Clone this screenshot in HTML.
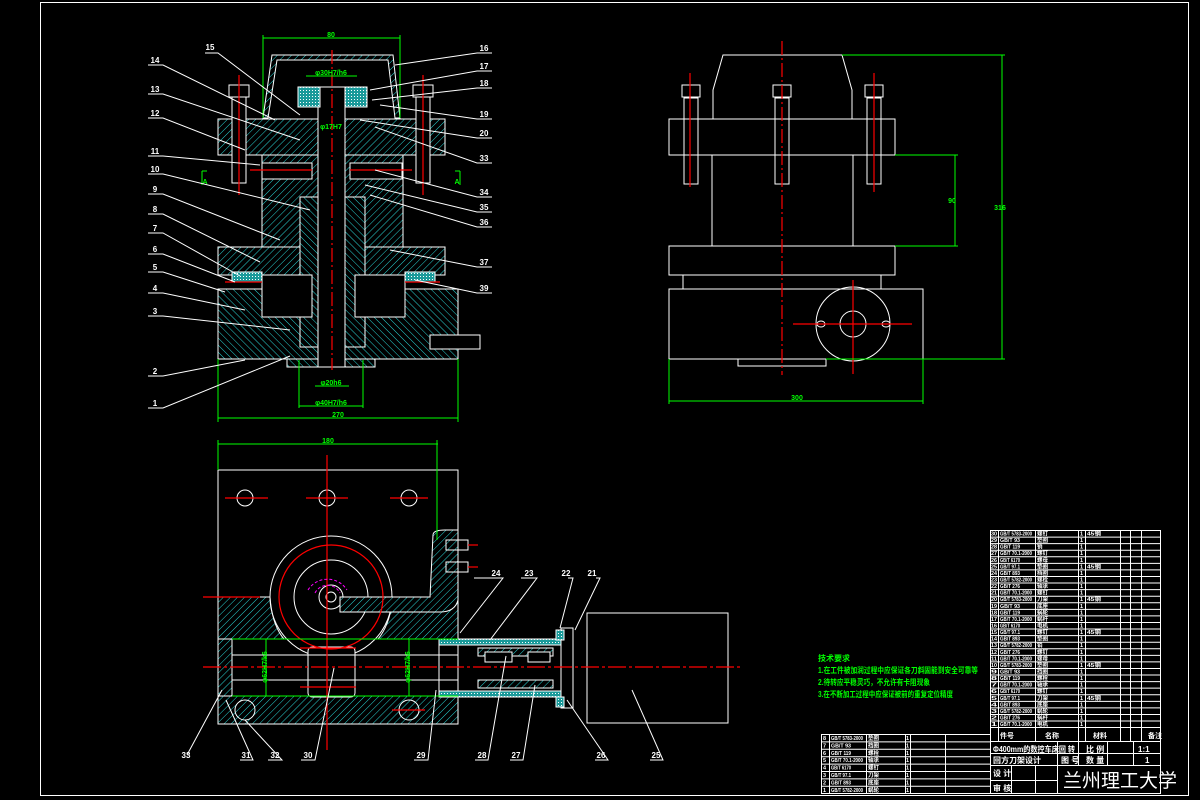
<!DOCTYPE html>
<html><head><meta charset="utf-8"><style>
html,body{margin:0;padding:0;background:#000;}
svg{display:block}
text{font-family:"Liberation Sans","Noto Sans CJK SC",sans-serif;}
</style></head><body>
<svg id="s" width="1200" height="800" viewBox="0 0 1200 800" xmlns="http://www.w3.org/2000/svg">
<defs>
<pattern id="h" width="5" height="5" patternUnits="userSpaceOnUse" patternTransform="rotate(45)">
<rect width="5" height="5" fill="#000"/><line x1="0" y1="0" x2="0" y2="5" stroke="#2ad4d4" stroke-width="1"/></pattern>
<pattern id="h2" width="5" height="5" patternUnits="userSpaceOnUse" patternTransform="rotate(-45)">
<rect width="5" height="5" fill="#000"/><line x1="0" y1="0" x2="0" y2="5" stroke="#2ad4d4" stroke-width="1"/></pattern>
<pattern id="x" width="3" height="3" patternUnits="userSpaceOnUse">
<rect width="3" height="3" fill="#1a9a9a"/><rect width="1" height="1" fill="#fff"/></pattern>
</defs>
<rect x="0" y="0" width="1200" height="800" fill="#000"/>
<rect x="40.5" y="2.5" width="1148" height="793" fill="none" stroke="#fff" stroke-width="1"/>

<!-- ===== Section view top-left ===== -->
<g stroke="#fff" stroke-width="1">
<path d="M272 55 L393 55 L400 118 L395 118 L388 60 L277 60 L268 118 L263 118 Z" fill="url(#h)"/>
<rect x="218" y="119" width="227" height="36" fill="url(#h)"/>
<rect x="262" y="155" width="141" height="92" fill="url(#h)"/>
<rect x="218" y="247" width="227" height="28" fill="url(#h)"/>
<rect x="218" y="289" width="240" height="70" fill="url(#h2)"/>
<rect x="287" y="359" width="88" height="8" fill="url(#h2)"/>
<rect x="300" y="197" width="20" height="150" fill="url(#h2)"/>
<rect x="345" y="197" width="20" height="150" fill="url(#h2)"/>
<rect x="318" y="87" width="27" height="280" fill="#000"/>
<rect x="262" y="275" width="50" height="42" fill="#000"/>
<rect x="355" y="275" width="50" height="42" fill="#000"/>
<rect x="298" y="87" width="22" height="20" fill="url(#x)"/>
<rect x="345" y="87" width="22" height="20" fill="url(#x)"/>
<rect x="232" y="85" width="14" height="98" fill="#000"/>
<rect x="416" y="85" width="14" height="98" fill="#000"/>
<rect x="229" y="85" width="20" height="12" fill="#000"/>
<rect x="413" y="85" width="20" height="12" fill="#000"/>
<rect x="262" y="163" width="50" height="16" fill="#000"/>
<rect x="350" y="163" width="52" height="16" fill="#000"/>
<rect x="232" y="272" width="30" height="10" fill="url(#x)"/>
<rect x="405" y="272" width="30" height="10" fill="url(#x)"/>
<rect x="430" y="335" width="50" height="14" fill="#000"/>
</g>
<g stroke="#f00" stroke-width="1.2" fill="none">
<line x1="332" y1="50" x2="332" y2="370" stroke-dasharray="14 3 2 3"/>
<line x1="239" y1="75" x2="239" y2="195"/>
<line x1="423" y1="75" x2="423" y2="195"/>
<line x1="250" y1="170" x2="312" y2="170"/>
<line x1="350" y1="170" x2="412" y2="170"/>
<line x1="225" y1="282" x2="262" y2="282"/>
<line x1="405" y1="282" x2="440" y2="282"/>
</g>
<g stroke="#0f0" stroke-width="1" fill="none">
<line x1="263" y1="38" x2="400" y2="38"/><line x1="263" y1="35" x2="263" y2="118"/><line x1="400" y1="35" x2="400" y2="118"/>
<line x1="306" y1="76" x2="357" y2="76"/>
<line x1="218" y1="418" x2="458" y2="418"/><line x1="218" y1="359" x2="218" y2="422"/><line x1="458" y1="359" x2="458" y2="422"/>
<line x1="299" y1="406" x2="363" y2="406"/><line x1="299" y1="360" x2="299" y2="408"/><line x1="363" y1="360" x2="363" y2="408"/>
<line x1="315" y1="386" x2="349" y2="386"/>
<path d="M202 171 V185 M202 171 H207"/><path d="M460 171 V185 M455 171 H460"/>
</g>
<g fill="#0f0" font-size="7" font-weight="bold" text-anchor="middle">
<text x="331" y="37">80</text><text x="331" y="75">φ30H7/h6</text><text x="331" y="129">φ17H7</text>
<text x="331" y="385">φ20h6</text><text x="331" y="405">φ40H7/h6</text><text x="338" y="417">270</text>
<text x="205" y="184">A</text><text x="457" y="184">A</text>
</g>
<g stroke="#fff" stroke-width="1" fill="none">
<path d="M148 65 H163 L275 120"/><path d="M148 94 H163 L300 140"/><path d="M148 118 H163 L245 150"/>
<path d="M148 156 H163 L260 165"/><path d="M148 174 H163 L310 210"/><path d="M148 194 H163 L280 240"/>
<path d="M148 214 H163 L260 262"/><path d="M148 233 H163 L240 276"/><path d="M148 254 H163 L235 282"/>
<path d="M148 272 H163 L225 292"/><path d="M148 293 H163 L245 310"/><path d="M148 316 H163 L290 330"/>
<path d="M148 376 H163 L245 360"/><path d="M148 408 H163 L290 356"/><path d="M205 53 H218 L300 115"/>
<path d="M492 53 H477 L395 65"/><path d="M492 71 H477 L370 90"/><path d="M492 88 H477 L372 100"/>
<path d="M492 119 H477 L380 105"/><path d="M492 138 H477 L360 120"/><path d="M492 163 H477 L375 127"/>
<path d="M492 197 H477 L375 170"/><path d="M492 212 H477 L365 185"/><path d="M492 227 H477 L370 195"/>
<path d="M492 267 H477 L390 250"/><path d="M492 293 H477 L415 280"/>
</g>
<g fill="#fff" font-size="8" font-weight="bold" text-anchor="middle">
<text x="155" y="63">14</text><text x="155" y="92">13</text><text x="155" y="116">12</text><text x="155" y="154">11</text>
<text x="155" y="172">10</text><text x="155" y="192">9</text><text x="155" y="212">8</text><text x="155" y="231">7</text>
<text x="155" y="252">6</text><text x="155" y="270">5</text><text x="155" y="291">4</text><text x="155" y="314">3</text>
<text x="155" y="374">2</text><text x="155" y="406">1</text><text x="210" y="50">15</text>
<text x="484" y="51">16</text><text x="484" y="69">17</text><text x="484" y="86">18</text><text x="484" y="117">19</text>
<text x="484" y="136">20</text><text x="484" y="161">33</text><text x="484" y="195">34</text><text x="484" y="210">35</text>
<text x="484" y="225">36</text><text x="484" y="265">37</text><text x="484" y="291">39</text>
</g>

<!-- ===== Right view ===== -->
<g stroke="#fff" stroke-width="1" fill="none">
<path d="M713 119 V90 L723 55 H842 L852 90 V119"/>
<rect x="669" y="119" width="226" height="36"/>
<rect x="712" y="155" width="141" height="91"/>
<rect x="669" y="246" width="226" height="29"/>
<rect x="683" y="275" width="198" height="14"/>
<rect x="669" y="289" width="254" height="70"/>
<rect x="738" y="359" width="88" height="7"/>
<circle cx="853" cy="324" r="37"/><circle cx="853" cy="324" r="13"/>
<rect x="684" y="98" width="14" height="86"/><rect x="775" y="98" width="14" height="86"/><rect x="867" y="98" width="14" height="86"/>
<rect x="682" y="85" width="18" height="12"/><rect x="773" y="85" width="18" height="12"/><rect x="865" y="85" width="18" height="12"/>
<ellipse cx="821" cy="324" rx="4" ry="3"/><ellipse cx="886" cy="324" rx="4" ry="3"/>
</g>
<g stroke="#f00" stroke-width="1.2">
<line x1="782" y1="41" x2="782" y2="375" stroke-dasharray="14 3 2 3"/>
<line x1="690" y1="73" x2="690" y2="187"/><line x1="874" y1="73" x2="874" y2="192"/>
<line x1="793" y1="324" x2="912" y2="324"/><line x1="853" y1="280" x2="853" y2="374"/>
</g>
<g stroke="#0f0" stroke-width="1" fill="none">
<line x1="842" y1="55" x2="1005" y2="55"/><line x1="1002" y1="55" x2="1002" y2="359"/><line x1="826" y1="359" x2="1005" y2="359"/>
<line x1="895" y1="155" x2="958" y2="155"/><line x1="955" y1="155" x2="955" y2="246"/><line x1="895" y1="246" x2="958" y2="246"/>
<line x1="669" y1="401" x2="923" y2="401"/><line x1="669" y1="359" x2="669" y2="404"/><line x1="923" y1="359" x2="923" y2="404"/>
</g>
<g fill="#0f0" font-size="7" font-weight="bold" text-anchor="middle">
<text x="797" y="400">300</text><text x="952" y="203">90</text><text x="1000" y="210">316</text>
</g>

<!-- ===== Bottom view ===== -->
<g stroke="#fff" stroke-width="1">
<rect x="218" y="470" width="240" height="254" fill="none"/>
<path d="M218 597 H270 Q272 625 284 639 H218 Z" fill="url(#h)"/>
<path d="M458 597 H393 Q390 625 378 639 H458 Z" fill="url(#h)"/>
<rect x="218" y="639" width="14" height="57" fill="url(#h)"/>
<rect x="218" y="696" width="240" height="28" fill="url(#h)"/>
<circle cx="331" cy="597" r="61" fill="none"/>
<circle cx="331" cy="597" r="37" fill="none"/><circle cx="331" cy="597" r="12" fill="none"/>
<circle cx="331" cy="597" r="5" fill="none"/>
<rect x="308" y="647" width="47" height="50" rx="4" fill="#000"/>
<line x1="232" y1="655" x2="458" y2="655"/><line x1="232" y1="680" x2="458" y2="680"/>
<circle cx="245" cy="498" r="8" fill="none"/><circle cx="327" cy="498" r="8" fill="none"/><circle cx="409" cy="498" r="8" fill="none"/>
<circle cx="245" cy="710" r="10" fill="none"/><circle cx="409" cy="710" r="10" fill="none"/>
<path d="M433 535 Q433 530 445 530 H458 V600 Q455 612 440 612 H340 V597 H430 Z" fill="url(#h)"/>
<rect x="446" y="540" width="22" height="10" fill="none"/><rect x="446" y="562" width="22" height="10" fill="none"/>
<rect x="439" y="639" width="122" height="58" fill="none"/>
<rect x="439" y="639" width="122" height="6" fill="url(#x)"/>
<rect x="439" y="691" width="122" height="6" fill="url(#x)"/>
<rect x="478" y="648" width="75" height="8" fill="url(#h)"/>
<rect x="478" y="680" width="75" height="8" fill="url(#h)"/>
<rect x="485" y="652" width="27" height="10" fill="#000"/><rect x="528" y="652" width="22" height="10" fill="#000"/>
<rect x="561" y="628" width="12" height="80" fill="none"/>
<rect x="556" y="630" width="8" height="10" fill="url(#x)"/><rect x="556" y="697" width="8" height="10" fill="url(#x)"/>
<rect x="587" y="613" width="141" height="110" fill="none"/>
</g>
<g stroke="#f00" stroke-width="1.2" fill="none">
<circle cx="331" cy="597" r="52"/>
<line x1="327" y1="455" x2="327" y2="750"/>
<line x1="203" y1="597" x2="260" y2="597"/>
<line x1="203" y1="667" x2="740" y2="667" stroke-dasharray="18 3 3 3"/>
<line x1="225" y1="498" x2="268" y2="498"/><line x1="306" y1="498" x2="348" y2="498"/><line x1="390" y1="498" x2="428" y2="498"/>
<line x1="300" y1="648" x2="356" y2="648"/><line x1="300" y1="687" x2="356" y2="687"/>
<line x1="468" y1="545" x2="478" y2="545"/><line x1="468" y1="567" x2="478" y2="567"/>
<line x1="392" y1="710" x2="425" y2="710"/>
</g>
<path d="M308 590 A23 23 0 0 1 347 590 M315 593 A14 14 0 0 1 340 593" stroke="#f0f" stroke-dasharray="3 2" fill="none"/>
<g stroke="#0f0" stroke-width="1" fill="none">
<line x1="218" y1="444" x2="438" y2="444"/><line x1="218" y1="440" x2="218" y2="470"/><line x1="437" y1="440" x2="437" y2="540"/>
<line x1="266" y1="639" x2="266" y2="696"/><line x1="409" y1="639" x2="409" y2="696"/>
<line x1="232" y1="639" x2="458" y2="639"/><line x1="232" y1="696" x2="458" y2="696"/>
</g>
<g fill="#0f0" font-size="7" font-weight="bold" text-anchor="middle">
<text x="328" y="443">180</text>
<text x="264" y="670" transform="rotate(-90 264 667)">φ62H7/k6</text>
<text x="407" y="670" transform="rotate(-90 407 667)">φ62H7/k6</text>
</g>
<g stroke="#fff" stroke-width="1" fill="none">
<path d="M474 578 H503 L460 633"/><path d="M521 578 H537 L490 640"/><path d="M568 578 H573 L560 628"/>
<path d="M596 578 H600 L575 630"/>
<path d="M187 755 L222 690"/><path d="M240 760 H253 L226 700"/><path d="M268 760 H282 L245 720"/>
<path d="M301 760 H315 L334 668"/><path d="M414 760 H428 L436 690"/><path d="M475 760 H488 L506 656"/>
<path d="M510 760 H523 L535 685"/><path d="M595 760 H608 L567 700"/><path d="M650 760 H663 L632 690"/>
</g>
<g fill="#fff" font-size="8" font-weight="bold" text-anchor="middle">
<text x="496" y="576">24</text><text x="529" y="576">23</text><text x="566" y="576">22</text><text x="592" y="576">21</text>
<text x="186" y="758">33</text><text x="246" y="758">31</text><text x="275" y="758">32</text><text x="308" y="758">30</text>
<text x="421" y="758">29</text><text x="482" y="758">28</text><text x="516" y="758">27</text><text x="601" y="758">26</text><text x="656" y="758">25</text>
</g>

<!-- ===== technical requirements ===== -->
<g fill="#0f0" font-size="8" font-weight="bold">
<text x="818" y="661">技术要求</text>
<text x="818" y="673" textLength="160" lengthAdjust="spacingAndGlyphs">1.在工件被加润过程中应保证各刀斜固能到安全可靠等</text>
<text x="818" y="685" textLength="112" lengthAdjust="spacingAndGlyphs">2.待转应平稳灵巧，不允许有卡阻现象</text>
<text x="818" y="697" textLength="135" lengthAdjust="spacingAndGlyphs">3.在不断加工过程中应保证被前的重复定位精度</text>
</g>

<!-- ===== parts list & title block ===== -->
<g id="tb" stroke="#fff" stroke-width="1" fill="none">
<rect x="990.5" y="530.5" width="170" height="263"/>
<rect x="821.5" y="734.5" width="169" height="59"/>
<line x1="990" y1="727.5" x2="1160" y2="727.5"/>
<line x1="990" y1="741.5" x2="1160" y2="741.5"/>
<line x1="990" y1="765.5" x2="1160" y2="765.5"/>
<line x1="990" y1="753.5" x2="1160" y2="753.5"/>
<line x1="990" y1="780.5" x2="1057" y2="780.5"/>
<line x1="1057.5" y1="741" x2="1057.5" y2="794"/>
<line x1="1078.5" y1="741" x2="1078.5" y2="765"/>
<line x1="1107.5" y1="741" x2="1107.5" y2="765"/>
<line x1="1133.5" y1="741" x2="1133.5" y2="765"/>
<line x1="1011.5" y1="765" x2="1011.5" y2="794"/>
<line x1="1035.5" y1="765" x2="1035.5" y2="794"/>
</g>
<g fill="#fff" font-weight="bold">
<text x="993" y="752" font-size="8" textLength="82" lengthAdjust="spacingAndGlyphs">Φ400mm的数控车床回 转</text>
<text x="993" y="763" font-size="8">回方刀架设计</text>
<text x="1086" y="752" font-size="8">比 例</text><text x="1138" y="752" font-size="8">1:1</text>
<text x="1086" y="763" font-size="8">数 量</text><text x="1145" y="763" font-size="8">1</text>
<text x="1061" y="763" font-size="8">图 号</text>
<text x="993" y="776" font-size="8">设 计</text><text x="993" y="791" font-size="8">审 核</text>
<text x="1063" y="787" font-size="19" font-weight="normal">兰州理工大学</text>
<text x="1000" y="738" font-size="7">件号</text><text x="1045" y="738" font-size="7">名称</text><text x="1093" y="738" font-size="7">材料</text><text x="1148" y="738" font-size="7">备注</text>
</g>
</svg>
<script>
(function(){
var s=document.getElementById('tb'),NS='http://www.w3.org/2000/svg',svg=document.getElementById('s');
function L(x1,y1,x2,y2){var l=document.createElementNS(NS,'line');l.setAttribute('x1',x1);l.setAttribute('y1',y1);l.setAttribute('x2',x2);l.setAttribute('y2',y2);s.appendChild(l);}
function T(x,y,t,w){var e=document.createElementNS(NS,'text');e.setAttribute('x',x);e.setAttribute('y',y);e.setAttribute('fill','#fff');e.setAttribute('font-size',5.5);e.setAttribute('font-weight','bold');if(w){e.setAttribute('textLength',w);e.setAttribute('lengthAdjust','spacingAndGlyphs');}e.textContent=t;svg.appendChild(e);}
var cols=[998,1035,1078,1085,1120,1130,1141];
cols.forEach(function(c){L(c+.5,530,c+.5,741);});
var codes=['GB/T 5783-2000','GB/T 93','GB/T 119','GB/T 70.1-2000','GB/T 6170','GB/T 97.1','GB/T 893','GB/T 5782-2000','GB/T 276','GB/T 70.1-2000'];
var names=['螺钉','垫圈','销','螺钉','螺母','垫圈','挡圈','螺栓','轴承','螺钉','刀架','底座','蜗轮','蜗杆','电机'];
for(var i=0;i<30;i++){var y=530+i*6.57;L(990,y+.5,1160,y+.5);
var c=codes[i%codes.length];
T(991,y+5.5,String(30-i),6);T(1000,y+5.5,c,c.length>9?32:20);T(1037,y+5.5,names[i%names.length]);T(1080,y+5.5,'1');
if(i%5==0)T(1087,y+5.5,'45钢',14);}
var cols2=[829,866,905,910,945];cols2.forEach(function(c){L(c+.5,734,c+.5,794);});
for(var j=1;j<8;j++){var y2=734+j*7.4;L(821,y2+.5,990,y2+.5);}
for(var j=0;j<8;j++){var y3=734+j*7.4;var c2=codes[j%codes.length];T(823,y3+6,String(8-j));T(831,y3+6,c2,c2.length>9?32:20);T(868,y3+6,names[(j+5)%names.length]);T(906,y3+6,'1');}
})();
</script>
</body></html>
